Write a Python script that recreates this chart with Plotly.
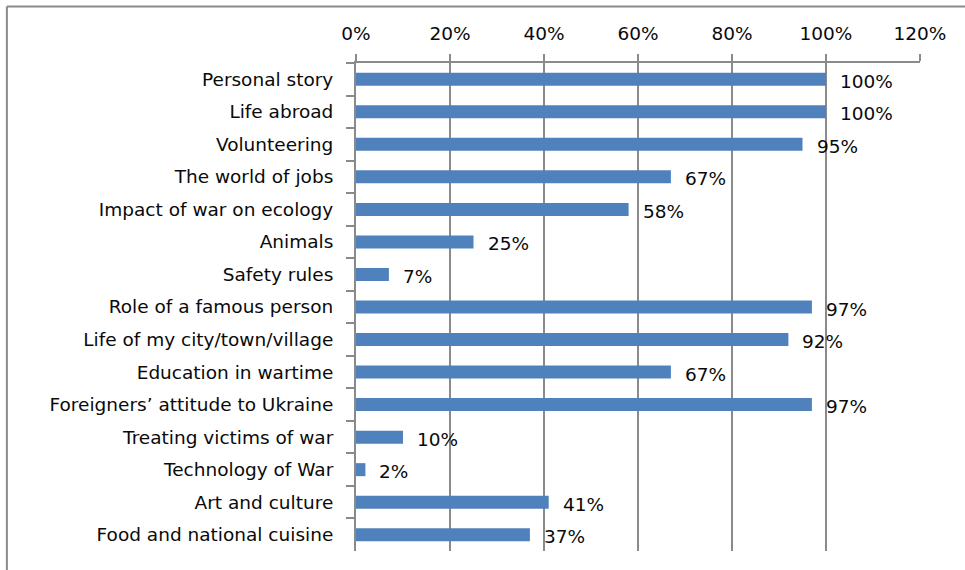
import plotly.graph_objects as go

categories = [
    "Personal story", "Life abroad", "Volunteering", "The world of jobs",
    "Impact of war on ecology", "Animals", "Safety rules",
    "Role of a famous person", "Life of my city/town/village",
    "Education in wartime", "Foreigners\u2019 attitude to Ukraine",
    "Treating victims of war", "Technology of War", "Art and culture",
    "Food and national cuisine",
]
values = [100, 100, 95, 67, 58, 25, 7, 97, 92, 67, 97, 10, 2, 41, 37]
tick_vals = [0, 20, 40, 60, 80, 100, 120]
tick_text = ["0%", "20%", "40%", "60%", "80%", "100%", "120%"]

FONT = "DejaVu Sans, Open Sans, sans-serif"
GRID = "#8a8a8a"
TXT = "#0a0a0a"
FS = 18.5

fig = go.Figure()
fig.add_trace(go.Bar(
    x=values, y=categories, orientation="h",
    marker=dict(color="#4F81BD", line=dict(width=0)),
    hoverinfo="skip",
))

for c, v in zip(categories, values):
    fig.add_annotation(
        x=v, y=c, text=f"{v}%", showarrow=False, xanchor="left",
        xshift=12, yshift=-2, font=dict(family=FONT, size=FS, color=TXT),
    )

# outer frame (top and left visible)
fig.add_shape(type="line", xref="paper", yref="paper",
              x0=-0.619, x1=1.1, y0=1.1158, y1=1.1158,
              line=dict(color="#8a8a8a", width=2))
fig.add_shape(type="line", xref="paper", yref="paper",
              x0=-0.619, x1=-0.619, y0=1.1158, y1=-0.06,
              line=dict(color="#8a8a8a", width=2))

fig.update_layout(
    width=965, height=570,
    margin=dict(l=356, r=45, t=63, b=19),
    paper_bgcolor="white", plot_bgcolor="white",
    showlegend=False, bargap=0.6,
    font=dict(family=FONT, size=FS, color=TXT),
    xaxis=dict(
        side="top", range=[0, 120], tickvals=tick_vals, ticktext=tick_text,
        showgrid=True, gridcolor=GRID, gridwidth=2,
        showline=True, linecolor=GRID, linewidth=2,
        ticks="outside", ticklen=7, tickwidth=2, tickcolor=GRID,
        ticklabelstandoff=7,
        zeroline=False, fixedrange=True,
        tickfont=dict(family=FONT, size=FS, color=TXT),
    ),
    yaxis=dict(
        autorange="reversed", showgrid=False,
        showline=True, linecolor=GRID, linewidth=2,
        ticks="outside", ticklen=8, tickwidth=2, tickcolor=GRID,
        tickson="boundaries", ticklabelstandoff=17, fixedrange=True,
        tickfont=dict(family=FONT, size=FS, color=TXT),
    ),
)

fig.write_html(
    "out.html",
    config={"displayModeBar": False},
    post_script="document.body.style.margin='0';document.body.style.overflow='hidden';",
)
